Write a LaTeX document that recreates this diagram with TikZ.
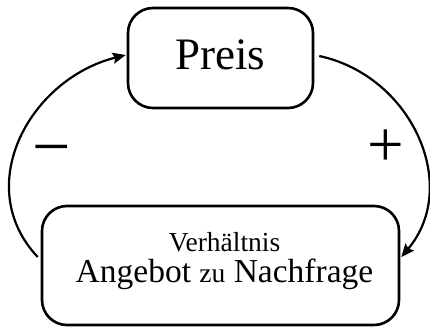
\documentclass[tikz,border=0pt]{standalone}
\usepackage{fontspec}
\setmainfont{Liberation Serif}
\usetikzlibrary{arrows.meta,calc}

\tikzset{
  roundbox/.style={draw, line width=2.6pt, rounded corners=25pt, inner sep=0pt},
  loop arrow/.style={line width=2.2pt, -{Stealth[length=13pt,width=11pt,inset=2pt]}},
  sign/.style={inner sep=0pt, anchor=base},
  boxline/.style={inner sep=0pt, anchor=base}
}

\begin{document}
\begin{tikzpicture}[x=1pt,y=-1pt]
  \useasboundingbox (0,0) rectangle (430,329);

  % the two states of the loop
  \node[roundbox, minimum width=185pt, minimum height=100pt, text depth=6pt,
        font=\fontsize{45}{50}\selectfont] (preis) at (220.5,58) {Preis};
  \node[roundbox, minimum width=357pt, minimum height=119pt] (verh) at (220.5,265.5) {};
  \node[boxline, font=\fontsize{27.5}{31}\selectfont] (verhtop) at (224.5,251) {Verhältnis};
  \node[boxline, font=\fontsize{33.5}{31}\selectfont] (verhbot) at (224.5,282.5)
    {Angebot {\fontsize{27.5}{31}\selectfont zu} Nachfrage};

  % feedback arcs
  \coordinate (ls) at ($(verh.west)+(-3,-8.5)$);
  \coordinate (le) at ($(preis.west)+(-1,-3)$);
  \coordinate (rs) at ($(preis.east)+(5,-2)$);
  \coordinate (re) at ($(verh.east)+(1,-8.5)$);
  \draw[loop arrow] (ls) .. controls (-29,186) and (30,79) .. (le);
  \draw[loop arrow] (rs) .. controls (412,76) and (461,186) .. (re);

  % signs of the influence
  \node[sign, font=\fontsize{68}{68}\selectfont] (minus) at (52,169) {−};
  \node[sign, font=\fontsize{65}{65}\selectfont] (plus) at (386,166) {+};
\end{tikzpicture}
\end{document}
